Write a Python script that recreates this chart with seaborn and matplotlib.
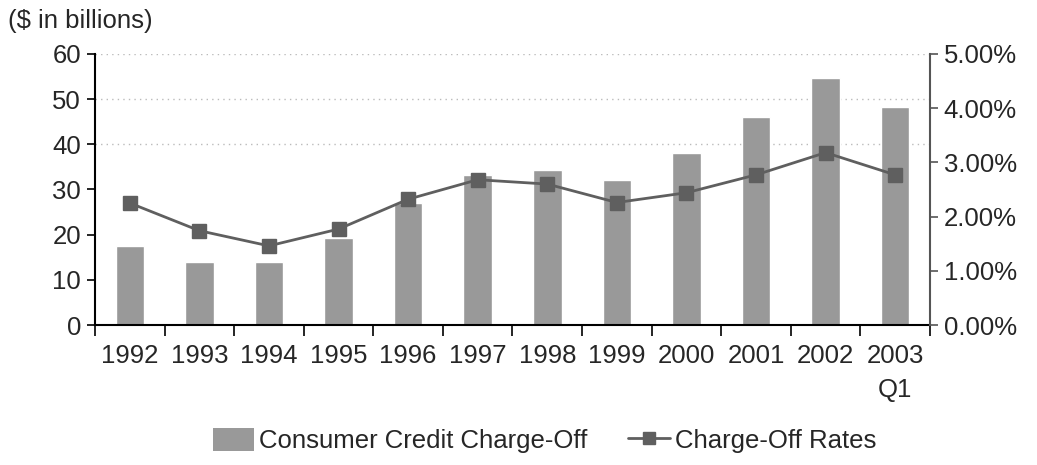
import matplotlib.pyplot as plt
import seaborn as sns
import pandas as pd
from matplotlib.patches import Patch
from matplotlib.lines import Line2D
from matplotlib.ticker import FuncFormatter

years = ["1992", "1993", "1994", "1995", "1996", "1997",
         "1998", "1999", "2000", "2001", "2002", "2003\nQ1"]
charge_off = [17.5, 14.0, 14.0, 19.3, 27.0, 33.3, 34.3, 32.0, 38.1, 46.1, 54.6, 48.3]
rates = [2.25, 1.74, 1.46, 1.77, 2.32, 2.68, 2.60, 2.26, 2.44, 2.77, 3.18, 2.77]

bar_color = "#999999"
line_color = "#5f5f5f"
fs = 18.5

df = pd.DataFrame({"year": years, "charge_off": charge_off, "rate": rates})

sns.set_style("white")
plt.rcParams["font.family"] = ["Liberation Sans", "DejaVu Sans"]

fig = plt.figure(figsize=(10.37, 4.65), dpi=100)
ax = fig.add_axes([0.0916, 0.301, 0.8052, 0.583])

for g in (40, 50, 60):
    ax.axhline(g, color="#bbbbbb", linestyle=(0, (1, 3)), linewidth=1, zorder=0)

sns.barplot(data=df, x="year", y="charge_off", color=bar_color, width=0.41,
            saturation=1, ax=ax, zorder=2)
ax.set_ylim(0, 60)
ax.set_xlim(-0.5, len(years) - 0.5)
ax.set_yticks(range(0, 61, 10))
ax.set_xlabel("")
ax.set_ylabel("")

ax2 = ax.twinx()
ax2.plot(range(len(years)), rates, color=line_color, linewidth=2,
         marker="s", markersize=10, zorder=3)
ax2.set_ylim(0, 5)
ax2.set_yticks([0, 1, 2, 3, 4, 5])
ax2.yaxis.set_major_formatter(FuncFormatter(lambda v, p: f"{v:.2f}%"))

# spines
for a in (ax, ax2):
    a.spines["top"].set_visible(False)
ax.spines["right"].set_visible(False)
ax2.spines["left"].set_visible(False)
ax2.spines["bottom"].set_visible(False)
ax.spines["left"].set_color("black")
ax.spines["bottom"].set_color("black")
ax.spines["left"].set_linewidth(1.5)
ax.spines["bottom"].set_linewidth(1.5)
ax2.spines["right"].set_color("#555555")
ax2.spines["right"].set_linewidth(1.5)

# ticks at category boundaries
ax.set_xticks([i - 0.5 for i in range(len(years) + 1)], minor=True)
ax.tick_params(axis="x", which="minor", length=8, width=1.2, direction="out",
               color="black", bottom=True)
ax.tick_params(axis="x", which="major", length=0, pad=14, labelsize=fs)
ax.tick_params(axis="y", length=6, width=1.2, direction="out", left=True,
               labelsize=fs, color="black", pad=4)
ax2.tick_params(axis="y", length=6, width=1.2, direction="out", right=True,
                labelsize=fs, color="#555555", pad=4)
for lbl in ax.get_xticklabels():
    lbl.set_horizontalalignment("center")
    lbl.set_linespacing(1.5)

fig.text(0.008, 0.955, "($ in billions)", fontsize=fs, ha="left", va="center")

handles = [
    Patch(facecolor=bar_color, edgecolor="none"),
    Line2D([0], [0], color=line_color, linewidth=2, marker="s", markersize=9),
]
fig.legend(handles, ["Consumer Credit Charge-Off", "Charge-Off Rates"],
           loc="center", bbox_to_anchor=(0.525, 0.052), ncol=2, frameon=False,
           fontsize=fs, handlelength=1.6, handleheight=1.0, handletextpad=0.2,
           columnspacing=1.6)

plt.savefig("out.png", dpi=100)
plt.close()
